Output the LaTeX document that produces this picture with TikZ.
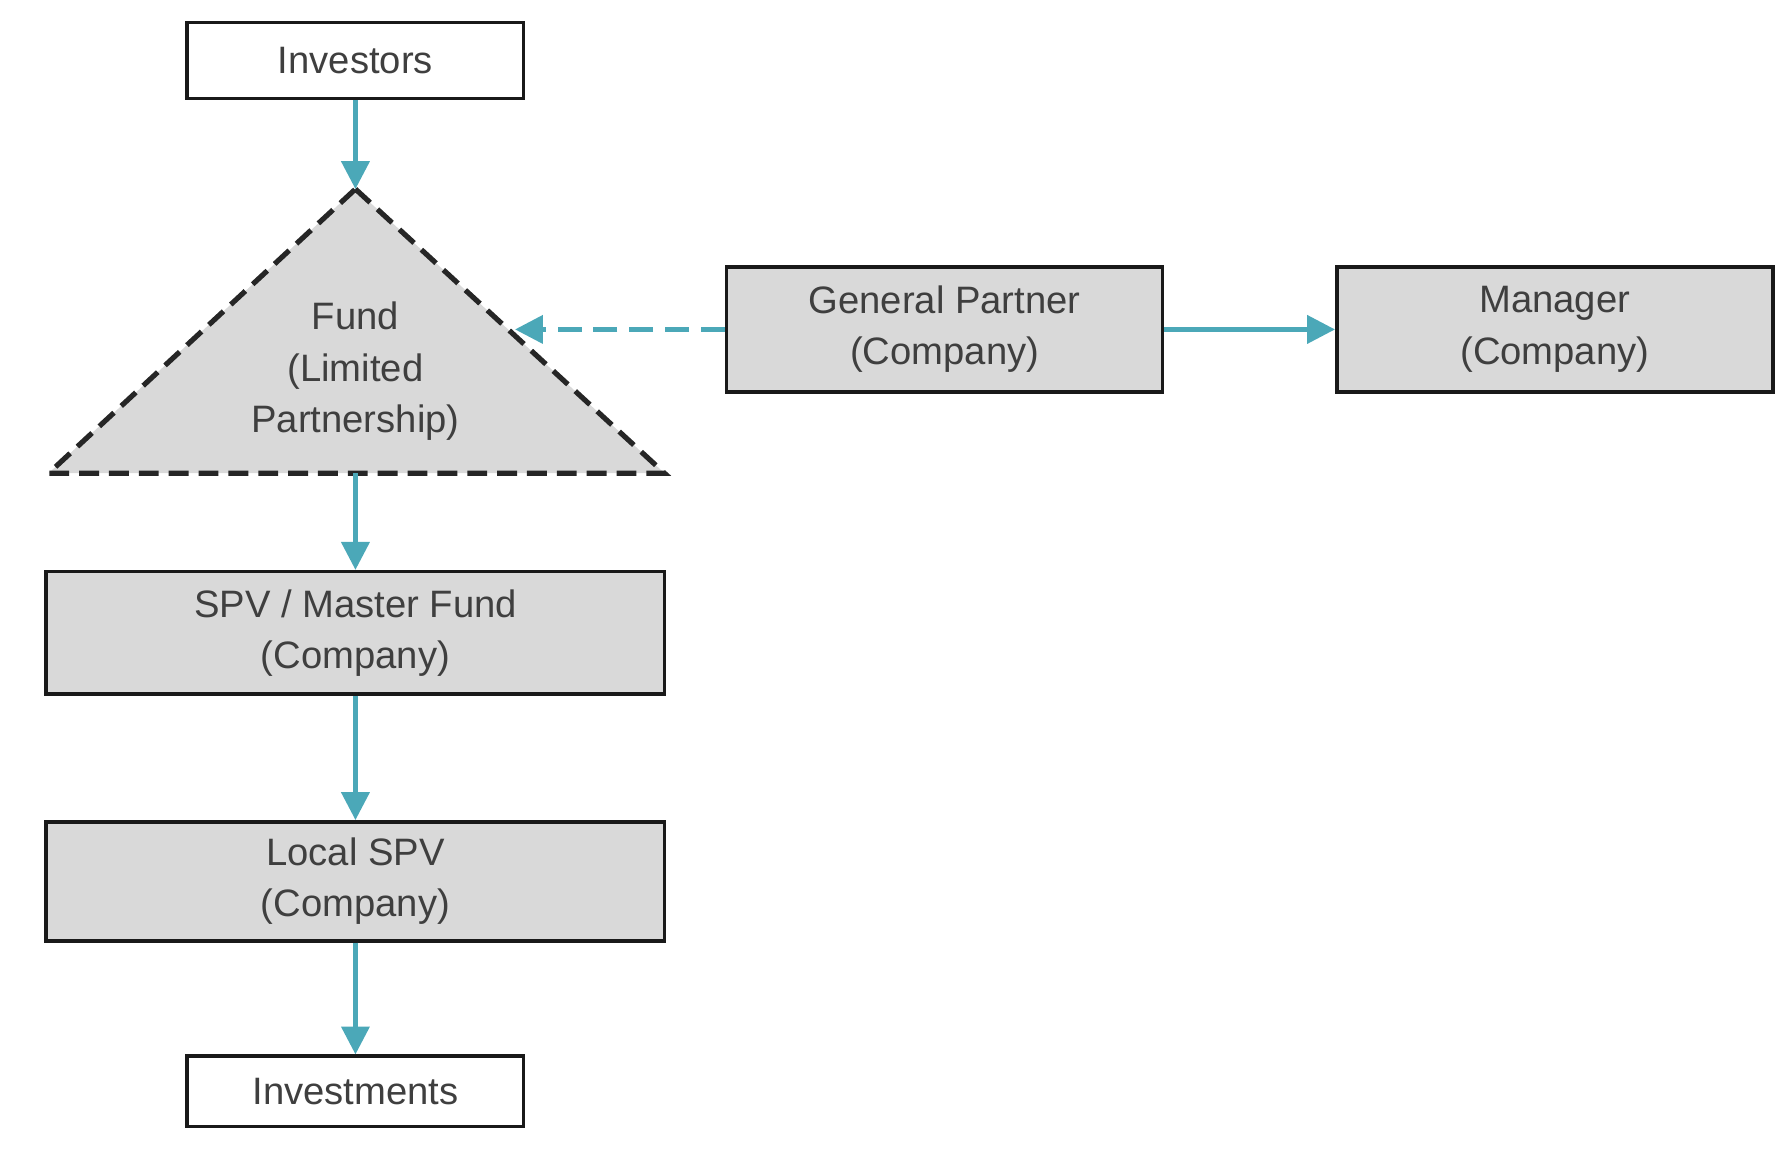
\documentclass[tikz,border=0pt]{standalone}
\usepackage{fontspec}
\setmainfont{Liberation Sans}
\usetikzlibrary{arrows.meta}
\definecolor{teal1}{HTML}{4BA8B8}
\definecolor{txt}{HTML}{3F3F3F}
\definecolor{boxg}{HTML}{D9D9D9}
\begin{document}
\begin{tikzpicture}[x=0.01cm,y=-0.01cm,
  every node/.style={font=\fontsize{9.6pt}{12.9pt}\selectfont, text=txt, align=center},
  box/.style={draw=black!90, line width=0.9pt, minimum width=#1, inner sep=0pt},
  arr/.style={draw=teal1, line width=1.1pt, -{Triangle[length=7pt,width=7pt]}}]
\useasboundingbox (0,0) rectangle (1568,1020);
\node[box=2.97cm, minimum height=0.67cm] (inv) at (314,53.5) {Investors};
\coordinate (apex) at (314,167);
\coordinate (bl) at (43,418);
\coordinate (br) at (587,418);
\draw[fill=boxg, draw=black!85, line width=1.3pt, dash pattern=on 5pt off 2.5pt] (apex) -- (br) -- (bl) -- cycle;
\node (fund) at (314,328) {Fund\\(Limited\\Partnership)};
\coordinate (base) at (314,418);
\coordinate (fr) at (455,291);
\node[box=3.85cm, minimum height=1.1cm, fill=boxg] (gp) at (834.5,291) {General Partner\\(Company)};
\node[box=3.85cm, minimum height=1.1cm, fill=boxg] (mgr) at (1373.5,291) {Manager\\(Company)};
\node[box=5.46cm, minimum height=1.08cm, fill=boxg] (spv) at (314,559) {SPV / Master Fund\\(Company)};
\node[box=5.46cm, minimum height=1.05cm, fill=boxg] (lspv) at (314,778.5) {Local SPV\\(Company)};
\node[box=2.97cm, minimum height=0.62cm] (invest) at (314,964) {Investments};
\draw[arr] (inv) -- (apex);
\draw[arr] (base) -- (spv);
\draw[arr] (spv) -- (lspv);
\draw[arr] (lspv) -- (invest);
\draw[arr] (gp) -- (mgr);
\draw[arr, dash pattern=on 6pt off 3pt] (gp) -- (fr);
\end{tikzpicture}
\end{document}
